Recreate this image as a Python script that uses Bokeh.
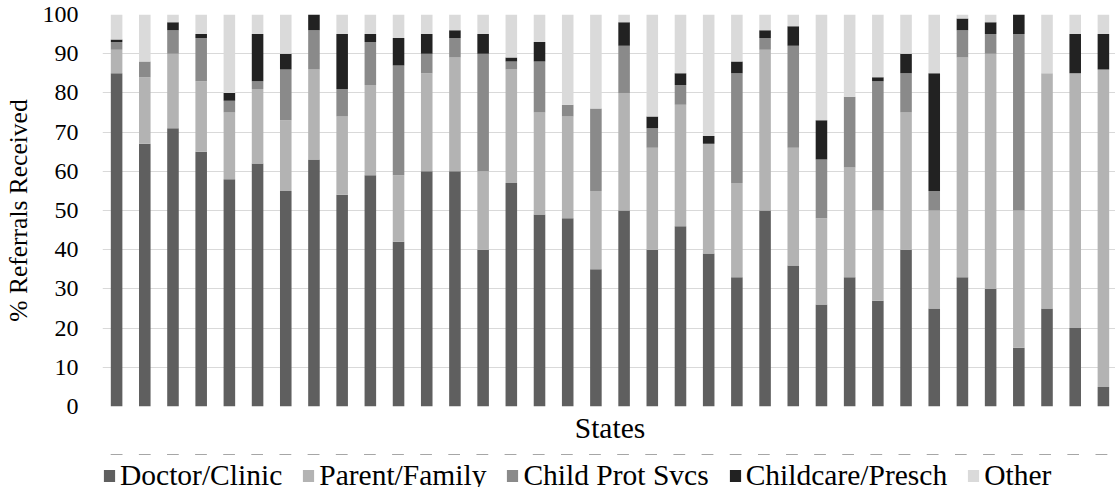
from bokeh.plotting import figure
from bokeh.models import (FactorRange, Range1d, Legend, LegendItem,
                          ColumnDataSource, FixedTicker, Title)
from bokeh.layouts import column
from bokeh.embed import file_html
from bokeh.resources import INLINE

# ---------------- data ----------------
states = ["S01", "S02", "S03", "S04", "S05", "S06", "S07", "S08", "S09",
          "S10", "S11", "S12", "S13", "S14", "S15", "S16", "S17", "S18",
          "S19", "S20", "S21", "S22", "S23", "S24", "S25", "S26", "S27",
          "S28", "S29", "S30", "S31", "S32", "S33", "S34", "S35", "S36"]
series_names = ["Doctor/Clinic", "Parent/Family", "Child Prot Svcs",
                "Childcare/Presch", "Other"]
doctor = [85, 67, 71, 65, 58, 62, 55, 63, 54, 59, 42, 60, 60, 40, 57, 49, 48, 35,
          50, 40, 46, 39, 33, 50, 36, 26, 33, 27, 40, 25, 33, 30, 15, 25, 20, 5]
parent = [6, 17, 19, 18, 17, 19, 18, 23, 20, 23, 17, 25, 29, 20, 29, 26, 26, 20,
          30, 26, 31, 28, 24, 41, 30, 22, 28, 23, 35, 25, 56, 60, 35, 60, 65, 81]
cps = [2, 4, 6, 11, 3, 2, 13, 10, 7, 11, 28, 5, 5, 30, 2, 13, 3, 21,
       12, 5, 5, 0, 28, 3, 26, 15, 18, 33, 10, 5, 7, 5, 45, 0, 0, 0]
childcare = [0.6, 0, 2, 1, 2, 12, 4, 4, 14, 2, 7, 5, 2, 5, 1, 5, 0, 0,
             6, 3, 3, 2, 3, 2, 5, 10, 0, 1, 5, 30, 3, 3, 5, 0, 10, 9]
other = [6.4, 12, 2, 5, 20, 5, 10, 0, 5, 5, 6, 5, 4, 5, 11, 7, 23, 24,
         2, 26, 15, 31, 12, 4, 3, 27, 21, 16, 10, 15, 1, 2, 0, 15, 5, 5]
y_ticks = [0, 10, 20, 30, 40, 50, 60, 70, 80, 90, 100]
x_title = "States"
y_title = "% Referrals Received"

colors = ["#5f5f5f", "#b3b3b3", "#8a8a8a", "#222222", "#dadada"]
keys = ["doctor", "parent", "cps", "childcare", "other"]

source = ColumnDataSource(dict(states=states, doctor=doctor, parent=parent,
                               cps=cps, childcare=childcare, other=other))

FONT = "Liberation Serif"

# ---------------- main chart ----------------
p = figure(x_range=FactorRange(*states), y_range=Range1d(0, 100),
           frame_width=1015, frame_height=392,
           output_backend="svg", toolbar_location=None,
           min_border_left=100, min_border_right=0, min_border_top=14,
           min_border_bottom=48, x_axis_location=None)
p.x_range.range_padding = 0

p.vbar_stack(keys, x="states", width=0.41, color=colors,
             source=source, line_color=None)

p.outline_line_color = None
p.background_fill_color = "white"
p.border_fill_color = "white"
p.xgrid.visible = False
p.ygrid.grid_line_color = "#d9d9d9"
p.ygrid.grid_line_width = 1

p.yaxis.ticker = FixedTicker(ticks=y_ticks)
p.yaxis.axis_line_color = None
p.yaxis.major_tick_line_color = None
p.yaxis.minor_tick_line_color = None
p.yaxis.major_tick_out = 0
p.yaxis.major_tick_in = 0
p.yaxis.major_label_standoff = 24
p.yaxis.major_label_text_font = FONT
p.yaxis.major_label_text_font_size = "24px"
p.yaxis.major_label_text_color = "black"
p.yaxis.axis_label = y_title
p.yaxis.axis_label_text_font = FONT
p.yaxis.axis_label_text_font_size = "25.5px"
p.yaxis.axis_label_text_font_style = "normal"
p.yaxis.axis_label_text_color = "black"
p.yaxis.axis_label_standoff = 7

xt = Title(text=x_title, align="center", text_font=FONT,
           text_font_size="29.5px", text_font_style="normal",
           text_color="black", standoff=7, offset=0)
p.add_layout(xt, "below")

# ---------------- legend strip ----------------
# swatch renderers share the data, but this strip's y range keeps them far out of view
lf = figure(x_range=p.x_range, y_range=Range1d(-30, -20),
            width=1115, height=40, output_backend="svg", toolbar_location=None,
            x_axis_location=None, y_axis_location=None,
            min_border_left=0, min_border_right=0, min_border_top=0,
            min_border_bottom=0)
lf.outline_line_color = None
lf.grid.visible = False
lf.background_fill_color = "white"
lf.border_fill_color = "white"
swatches = lf.vbar_stack(keys, x="states", width=0.41, color=colors,
                         source=source, line_color=None)
items = [LegendItem(label=n, renderers=[r]) for n, r in zip(series_names, swatches)]
legend = Legend(items=items, orientation="horizontal", location=(0, 2),
                glyph_width=14, glyph_height=15, label_standoff=4, spacing=19,
                padding=0, margin=0, border_line_color=None,
                background_fill_alpha=0,
                label_text_font=FONT, label_text_font_size="29.5px",
                label_text_color="black")
lf.add_layout(legend)

layout = column(p, lf, spacing=0)
open("out.html", "w").write(file_html(layout, INLINE))
